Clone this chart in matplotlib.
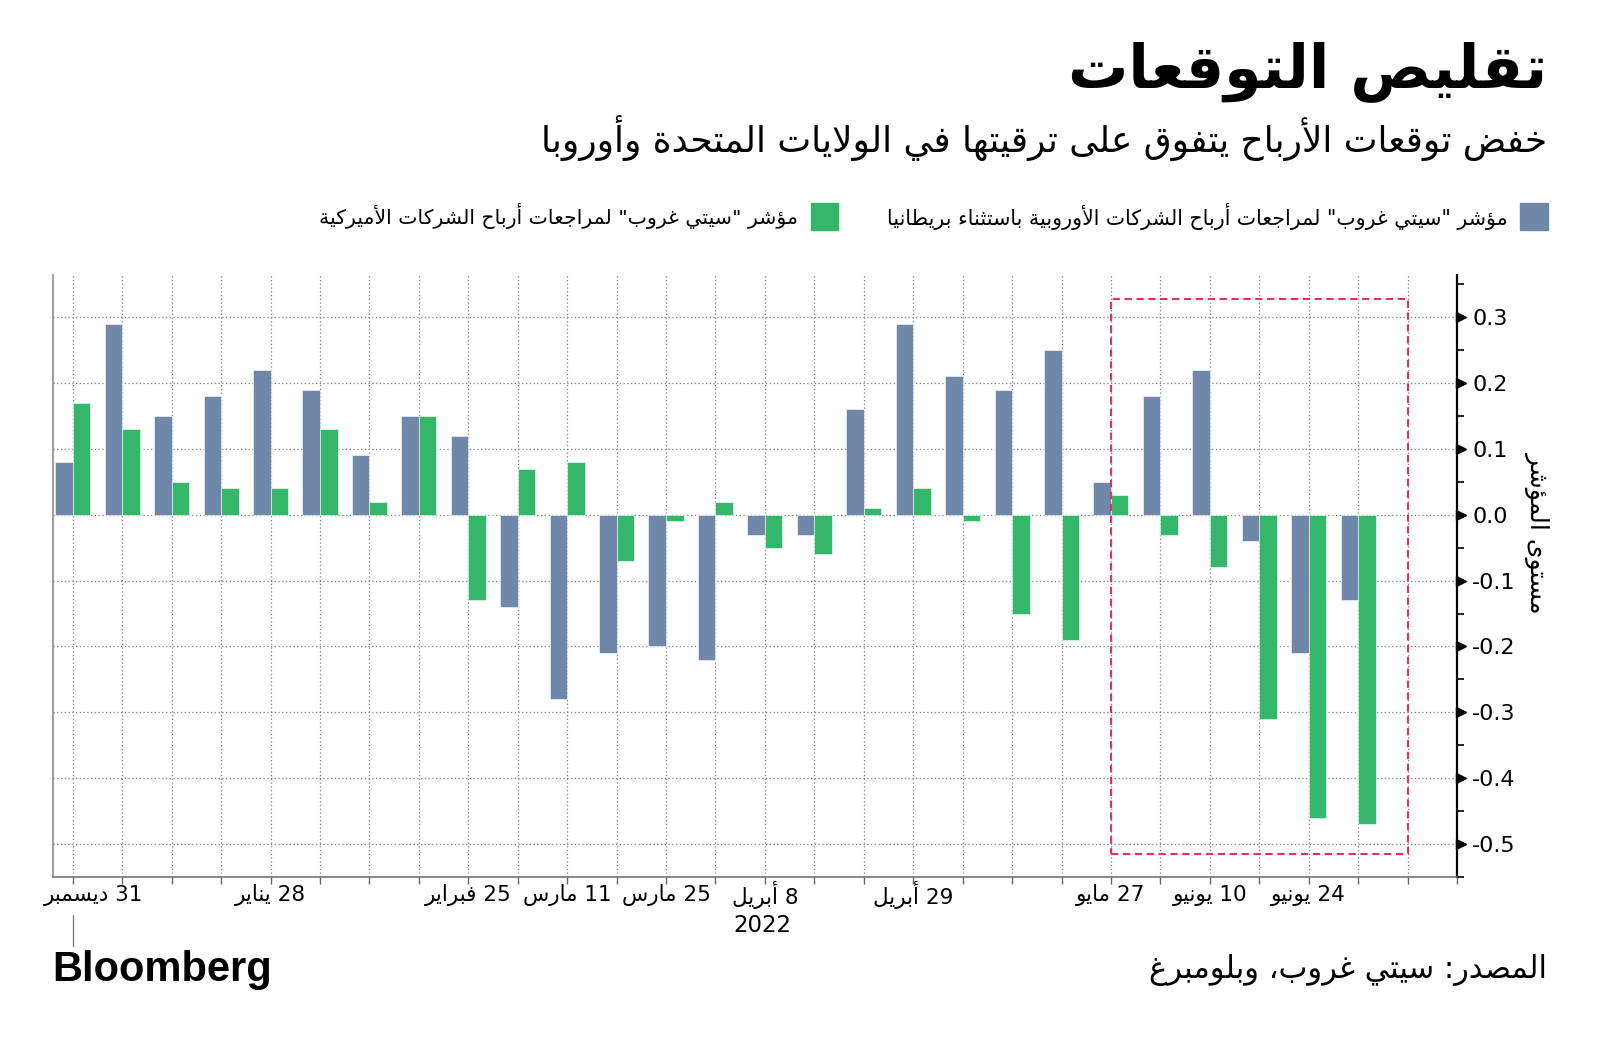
import re
import numpy as np
import pandas as pd
import matplotlib
matplotlib.use("Agg")
import matplotlib.pyplot as plt
from matplotlib.patches import Rectangle
from matplotlib.lines import Line2D
from matplotlib.transforms import ScaledTranslation, blended_transform_factory

# ---------------- data ----------------
weeks = pd.date_range("2021-12-31", periods=27, freq="7D")
europe_ex_uk = [0.08, 0.29, 0.15, 0.18, 0.22, 0.19, 0.09, 0.15, 0.12, -0.14,
                -0.28, -0.21, -0.20, -0.22, -0.03, -0.03, 0.16, 0.29, 0.21, 0.19,
                0.25, 0.05, 0.18, 0.22, -0.04, -0.21, -0.13]
us = [0.17, 0.13, 0.05, 0.04, 0.04, 0.13, 0.02, 0.15, -0.13, 0.07,
      0.08, -0.07, -0.01, 0.02, -0.05, -0.06, 0.01, 0.04, -0.01, -0.15,
      -0.19, 0.03, -0.03, -0.08, -0.31, -0.46, -0.47]
tick_dates = ["2021-12-31", "2022-01-28", "2022-02-25", "2022-03-11", "2022-03-25",
              "2022-04-08", "2022-04-29", "2022-05-27", "2022-06-10", "2022-06-24"]
tick_labels = ["31 ديسمبر", "28 يناير", "25 فبراير", "11 مارس", "25 مارس",
               "8 أبريل", "29 أبريل", "27 مايو", "10 يونيو", "24 يونيو"]
year_label = "2022"
y_ticks = [0.3, 0.2, 0.1, 0.0, -0.1, -0.2, -0.3, -0.4, -0.5]

title = "تقليص التوقعات"
subtitle = "خفض توقعات الأرباح يتفوق على ترقيتها في الولايات المتحدة وأوروبا"
legend_eu = 'مؤشر "سيتي غروب" لمراجعات أرباح الشركات الأوروبية باستثناء بريطانيا'
legend_us = 'مؤشر "سيتي غروب" لمراجعات أرباح الشركات الأميركية'
y_title = "مستوى المؤشر"
source = "المصدر: سيتي غروب، وبلومبرغ"

# ---------------- Arabic shaping (presentation forms + visual order) ----------------
F = {
    '\u0621': ('\uFE80', None, None, None), '\u0622': ('\uFE81', '\uFE82', None, None),
    '\u0623': ('\uFE83', '\uFE84', None, None), '\u0624': ('\uFE85', '\uFE86', None, None),
    '\u0625': ('\uFE87', '\uFE88', None, None), '\u0626': ('\uFE89', '\uFE8A', '\uFE8B', '\uFE8C'),
    '\u0627': ('\uFE8D', '\uFE8E', None, None), '\u0628': ('\uFE8F', '\uFE90', '\uFE91', '\uFE92'),
    '\u0629': ('\uFE93', '\uFE94', None, None), '\u062A': ('\uFE95', '\uFE96', '\uFE97', '\uFE98'),
    '\u062B': ('\uFE99', '\uFE9A', '\uFE9B', '\uFE9C'), '\u062C': ('\uFE9D', '\uFE9E', '\uFE9F', '\uFEA0'),
    '\u062D': ('\uFEA1', '\uFEA2', '\uFEA3', '\uFEA4'), '\u062E': ('\uFEA5', '\uFEA6', '\uFEA7', '\uFEA8'),
    '\u062F': ('\uFEA9', '\uFEAA', None, None), '\u0630': ('\uFEAB', '\uFEAC', None, None),
    '\u0631': ('\uFEAD', '\uFEAE', None, None), '\u0632': ('\uFEAF', '\uFEB0', None, None),
    '\u0633': ('\uFEB1', '\uFEB2', '\uFEB3', '\uFEB4'), '\u0634': ('\uFEB5', '\uFEB6', '\uFEB7', '\uFEB8'),
    '\u0635': ('\uFEB9', '\uFEBA', '\uFEBB', '\uFEBC'), '\u0636': ('\uFEBD', '\uFEBE', '\uFEBF', '\uFEC0'),
    '\u0637': ('\uFEC1', '\uFEC2', '\uFEC3', '\uFEC4'), '\u0638': ('\uFEC5', '\uFEC6', '\uFEC7', '\uFEC8'),
    '\u0639': ('\uFEC9', '\uFECA', '\uFECB', '\uFECC'), '\u063A': ('\uFECD', '\uFECE', '\uFECF', '\uFED0'),
    '\u0641': ('\uFED1', '\uFED2', '\uFED3', '\uFED4'), '\u0642': ('\uFED5', '\uFED6', '\uFED7', '\uFED8'),
    '\u0643': ('\uFED9', '\uFEDA', '\uFEDB', '\uFEDC'), '\u0644': ('\uFEDD', '\uFEDE', '\uFEDF', '\uFEE0'),
    '\u0645': ('\uFEE1', '\uFEE2', '\uFEE3', '\uFEE4'), '\u0646': ('\uFEE5', '\uFEE6', '\uFEE7', '\uFEE8'),
    '\u0647': ('\uFEE9', '\uFEEA', '\uFEEB', '\uFEEC'), '\u0648': ('\uFEED', '\uFEEE', None, None),
    '\u0649': ('\uFEEF', '\uFEF0', None, None), '\u064A': ('\uFEF1', '\uFEF2', '\uFEF3', '\uFEF4'),
}
LAM_ALEF = {'\u0622': ('\uFEF5', '\uFEF6'), '\u0623': ('\uFEF7', '\uFEF8'),
            '\u0625': ('\uFEF9', '\uFEFA'), '\u0627': ('\uFEFB', '\uFEFC')}


def shape(s):
    out = []
    i, n = 0, len(s)
    prev_dual = False
    while i < n:
        c = s[i]
        if c == '\u0644' and i + 1 < n and s[i + 1] in LAM_ALEF:
            out.append(LAM_ALEF[s[i + 1]][1 if prev_dual else 0])
            prev_dual = False
            i += 2
            continue
        if c in F:
            f = F[c]
            nxt = s[i + 1] if i + 1 < n else ''
            back = prev_dual and f[1] is not None
            fwd = f[2] is not None and nxt in F and F[nxt][1] is not None
            if back and fwd:
                g = f[3]
            elif back:
                g = f[1]
            elif fwd:
                g = f[2]
            else:
                g = f[0]
            out.append(g)
            prev_dual = f[2] is not None
        else:
            out.append(c)
            prev_dual = False
        i += 1
    return ''.join(out)


def ar(s):
    rev = shape(s)[::-1]
    return re.sub(r'[0-9A-Za-z]+', lambda m: m.group(0)[::-1], rev)


# ---------------- figure ----------------
W, H = 1600, 1048
fig = plt.figure(figsize=(W / 100, H / 100), dpi=100)
fig.patch.set_facecolor("white")
AR = ["DejaVu Sans"]

ax = fig.add_axes([53 / W, 1 - 877 / H, (1457 - 53) / W, (877 - 275) / H])

x = (weeks - weeks[0]).days.values / 7.0
bw = 0.355
blue = "#6f87a8"
green = "#35b76b"
ax.bar(x - bw / 2, europe_ex_uk, width=bw, color=blue, edgecolor="white", linewidth=0.4, zorder=3)
ax.bar(x + bw / 2, us, width=bw, color=green, edgecolor="white", linewidth=0.4, zorder=3)

ax.set_xlim(-0.40, 28)
ax.set_ylim(-0.548, 0.364)

# grid
dot = (0, (1, 2))
ax.set_xticks(np.arange(0, 29))
ax.set_xticklabels([])
for xi in np.arange(0, 28):
    ax.axvline(xi, color="#7f7f7f", lw=0.9, ls=dot, zorder=1)
for yv in y_ticks:
    ax.axhline(yv, color="#7f7f7f", lw=0.9, ls=dot, zorder=1)

# spines
ax.spines["top"].set_visible(False)
ax.spines["left"].set_color("#8c8c8c")
ax.spines["left"].set_linewidth(1.2)
ax.spines["bottom"].set_color("#666666")
ax.spines["bottom"].set_linewidth(1.1)
ax.spines["right"].set_color("black")
ax.spines["right"].set_linewidth(1.6)
ax.tick_params(axis="x", direction="out", length=5, width=1, color="#666666", pad=2)

# y axis on the right
ax.yaxis.tick_right()
ax.set_yticks(y_ticks)
ax.set_yticklabels([f"{v:.1f}" for v in y_ticks], fontsize=16, family="DejaVu Sans")
ax.set_yticks(np.arange(-0.55, 0.36, 0.1), minor=True)
ax.tick_params(axis="y", which="major", length=0, pad=11, right=True, left=False)
ax.tick_params(axis="y", which="minor", length=5, width=1.2, color="black", right=True, left=False)
tri = ax.get_yaxis_transform() + ScaledTranslation(4.5 / 100, 0, fig.dpi_scale_trans)
ax.plot([1] * len(y_ticks), y_ticks, ls="none", marker=">", ms=7.5, color="black",
        transform=tri, clip_on=False, zorder=5)

# highlight box
hl_x0 = (pd.Timestamp("2022-05-27") - weeks[0]).days / 7.0
hl_x1 = (pd.Timestamp("2022-07-08") - weeks[0]).days / 7.0
ax.add_patch(Rectangle((hl_x0, -0.515), hl_x1 - hl_x0, 0.327 + 0.515, fill=False,
                       edgecolor="#e0325c", lw=1.5, ls=(0, (3.5, 2.2)), zorder=4))

# x date labels
bt = blended_transform_factory(ax.transData, fig.transFigure)
for d, lab in zip(tick_dates, tick_labels):
    xi = (pd.Timestamp(d) - weeks[0]).days / 7.0
    if xi == 0:
        xi += 0.42
    ax.text(xi, 1 - 895 / H, ar(lab), transform=bt, ha="center", va="center",
            fontsize=15.5, family=AR)
ax.text((pd.Timestamp("2022-04-08") - weeks[0]).days / 7.0 - 0.05, 1 - 925 / H, year_label,
        transform=bt, ha="center", va="center", fontsize=16.5, family="DejaVu Sans")
fig.add_artist(Line2D([0, 0], [1 - 915 / H, 1 - 946 / H], transform=bt, color="#777777", lw=0.9))

# y axis title
fig.text(1537 / W, 1 - 532 / H, ar(y_title), rotation=-90, ha="center", va="center",
         fontsize=18, family=AR)

# titles
t1 = fig.text(1547 / W, 1 - 72 / H, ar(title), ha="right", va="center", fontsize=40,
              fontweight="bold", family=AR)
t2 = fig.text(1547 / W, 1 - 138 / H, ar(subtitle), ha="right", va="center", fontsize=22, family=AR)

# legend
fig.add_artist(Rectangle((1520 / W, 1 - 230 / H), 28 / W, 27 / H, transform=fig.transFigure,
                         color=blue))
l1 = fig.text(1508 / W, 1 - 216 / H, ar(legend_eu), ha="right", va="center", fontsize=15, family=AR)
fig.add_artist(Rectangle((811 / W, 1 - 230 / H), 27 / W, 27 / H, transform=fig.transFigure,
                         color=green))
l2 = fig.text(798 / W, 1 - 216 / H, ar(legend_us), ha="right", va="center", fontsize=15, family=AR)

# footer
fig.text(52 / W, 1 - 970 / H, "Bloomberg", ha="left", va="center", fontsize=30,
         fontweight="bold", family="Liberation Sans")
t3 = fig.text(1547 / W, 1 - 970 / H, ar(source), ha="right", va="center", fontsize=19, family=AR)

# fit text widths to the reference
fig.canvas.draw()
r = fig.canvas.get_renderer()
for t, target in [(t1, 480), (t2, 1007), (l1, 622), (l2, 480), (t3, 398)]:
    w = t.get_window_extent(r).width
    t.set_fontsize(t.get_fontsize() * target / w)

fig.savefig("out.png", dpi=100, facecolor="white")
